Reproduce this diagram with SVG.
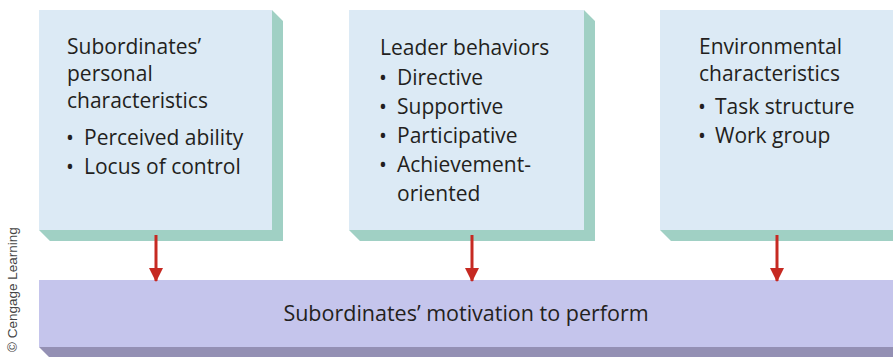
<svg xmlns="http://www.w3.org/2000/svg" width="893" height="357" viewBox="0 0 893 357">
<defs>
<style>
.front{fill:#dceaf5}
.shadow{fill:#a0d0c4}
.barfront{fill:#c5c5ec}
.barshadow{fill:#9490b4}
.t{font-family:"Open Sans","Noto Sans",sans-serif;font-size:21px;fill:#231f20}
.bt{font-family:"Open Sans","Noto Sans",sans-serif;font-size:21.5px;fill:#231f20}
.arrow{stroke:#c62a22;stroke-width:3;fill:none}
.copy{font-family:"Liberation Sans Narrow","Liberation Sans",sans-serif;font-size:13.5px;fill:#444}
</style>
<marker id="ah" markerWidth="14" markerHeight="14" refX="13" refY="7" orient="auto" markerUnits="userSpaceOnUse" viewBox="0 0 14 14">
<path d="M0,0 L14,7 L0,14 Z" fill="#c62a22"/>
</marker>
</defs>
<rect width="893" height="357" fill="#ffffff"/>

<g id="node-subordinates">
<polygon class="shadow" points="272,10 283,21 283,241 50,241 39,230 272,230"/>
<rect class="front" x="39" y="10" width="233" height="220"/>
<text class="t" x="67" y="54">Subordinates’</text>
<text class="t" x="67" y="81">personal</text>
<text class="t" x="67" y="108">characteristics</text>
<text class="t" y="145"><tspan x="66">•</tspan><tspan x="84">Perceived ability</tspan></text>
<text class="t" y="174"><tspan x="66">•</tspan><tspan x="84">Locus of control</tspan></text>
</g>

<g id="node-leader">
<polygon class="shadow" points="584,10 595,21 595,241 360,241 349,230 584,230"/>
<rect class="front" x="349" y="10" width="235" height="220"/>
<text class="t" x="380" y="55">Leader behaviors</text>
<text class="t" y="85"><tspan x="379">•</tspan><tspan x="397">Directive</tspan></text>
<text class="t" y="114"><tspan x="379">•</tspan><tspan x="397">Supportive</tspan></text>
<text class="t" y="143"><tspan x="379">•</tspan><tspan x="397">Participative</tspan></text>
<text class="t" y="172"><tspan x="379">•</tspan><tspan x="397">Achievement-</tspan></text>
<text class="t" x="397" y="201">oriented</text>
</g>

<g id="node-environment">
<polygon class="shadow" points="893,230 893,241 671,241 660,230"/>
<rect class="front" x="660" y="10" width="233" height="220"/>
<text class="t" x="699" y="54">Environmental</text>
<text class="t" x="699" y="81">characteristics</text>
<text class="t" y="114"><tspan x="698">•</tspan><tspan x="715">Task structure</tspan></text>
<text class="t" y="143"><tspan x="698">•</tspan><tspan x="715">Work group</tspan></text>
</g>

<g id="node-motivation">
<polygon class="barshadow" points="39,347 893,347 893,357 49,357"/>
<rect class="barfront" x="39" y="280" width="854" height="67"/>
<text class="bt" x="466" y="321" text-anchor="middle">Subordinates’ motivation to perform</text>
</g>

<g id="connectors">
<line class="arrow" x1="156" y1="235" x2="156" y2="281" marker-end="url(#ah)"/>
<line class="arrow" x1="472" y1="235" x2="472" y2="281" marker-end="url(#ah)"/>
<line class="arrow" x1="777" y1="235" x2="777" y2="281" marker-end="url(#ah)"/>
</g>

<text class="copy" transform="translate(17,352) rotate(-90)">© Cengage Learning</text>
</svg>
